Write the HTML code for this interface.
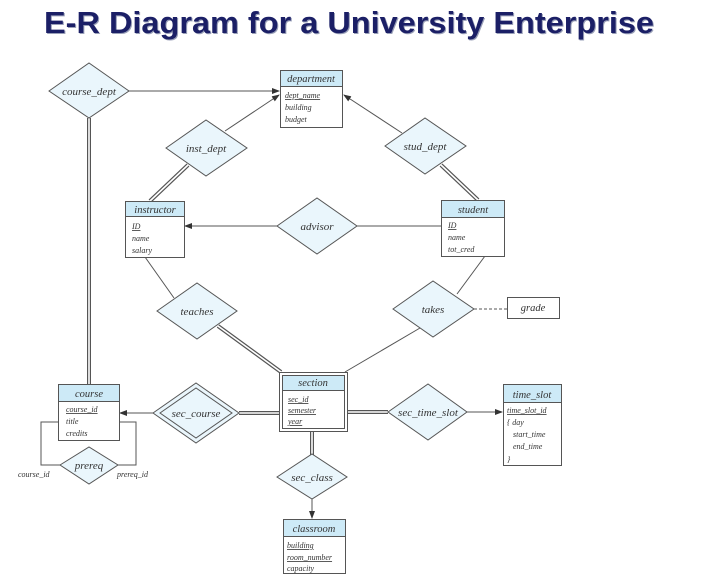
<!DOCTYPE html>
<html><head><meta charset="utf-8"><style>
html,body{margin:0;padding:0;background:#fff;width:708px;height:582px;overflow:hidden}
svg text{font-family:"Liberation Serif",serif;font-style:italic;fill:#333}
</style></head><body>
<svg width="708" height="582" viewBox="0 0 708 582" xmlns="http://www.w3.org/2000/svg">
<defs>
<marker id="ar" markerWidth="8" markerHeight="6" refX="7" refY="3" orient="auto" markerUnits="userSpaceOnUse">
<path d="M0,0 L8,3 L0,6 z" fill="#333"/></marker>
</defs>
<text x="45" y="34" textLength="610" lengthAdjust="spacingAndGlyphs" style="font-family:'Liberation Sans',sans-serif;font-style:normal;font-weight:bold;font-size:31px;fill:#9aa0b8">E-R Diagram for a University Enterprise</text>
<text x="44" y="33" textLength="610" lengthAdjust="spacingAndGlyphs" style="font-family:'Liberation Sans',sans-serif;font-style:normal;font-weight:bold;font-size:31px;fill:#1b1f66">E-R Diagram for a University Enterprise</text>

<g stroke="#555" stroke-width="1" fill="none">
<!-- single lines -->
<line x1="129" y1="91" x2="279" y2="91" marker-end="url(#ar)"/>
<line x1="225" y1="131" x2="279" y2="95" marker-end="url(#ar)"/>
<line x1="402" y1="133" x2="344" y2="95" marker-end="url(#ar)"/>
<line x1="277" y1="226" x2="185" y2="226" marker-end="url(#ar)"/>
<line x1="357" y1="226" x2="441" y2="226"/>
<line x1="145" y1="257" x2="174" y2="298"/>
<line x1="485" y1="256" x2="457" y2="294"/>
<line x1="420" y1="328" x2="345" y2="372"/>
<line x1="474" y1="309" x2="507" y2="309" stroke-dasharray="3,2"/>
<line x1="153" y1="413" x2="120" y2="413" marker-end="url(#ar)"/>
<line x1="467" y1="412" x2="502" y2="412" marker-end="url(#ar)"/>
<line x1="312" y1="499" x2="312" y2="518" marker-end="url(#ar)"/>
<polyline points="60,465 41,465 41,422 58,422"/>
<polyline points="118,465 136,465 136,422 119,422"/>
</g>
<!-- double lines -->
<g stroke="#555" stroke-width="4" fill="none">
<line x1="89" y1="118" x2="89" y2="384"/>
<line x1="188" y1="165" x2="150" y2="201"/>
<line x1="441" y1="165" x2="478" y2="200"/>
<line x1="218" y1="326" x2="281" y2="372"/>
<line x1="239" y1="413" x2="279" y2="413"/>
<line x1="347" y1="412" x2="388" y2="412"/>
<line x1="312" y1="431" x2="312" y2="455"/>
</g>
<g stroke="#fff" stroke-width="1.6" fill="none">
<line x1="89" y1="118" x2="89" y2="384"/>
<line x1="188" y1="165" x2="150" y2="201"/>
<line x1="441" y1="165" x2="478" y2="200"/>
<line x1="218" y1="326" x2="281" y2="372"/>
<line x1="239" y1="413" x2="279" y2="413"/>
<line x1="347" y1="412" x2="388" y2="412"/>
<line x1="312" y1="431" x2="312" y2="455"/>
</g>

<!-- diamonds -->
<g fill="#eaf6fc" stroke="#555" stroke-width="1">
<polygon points="49,91 89,63 129,91 89,118"/>
<polygon points="166,148 206,120 247,148 206,176"/>
<polygon points="385,146 425,118 466,146 425,174"/>
<polygon points="277,226 317,198 357,226 317,254"/>
<polygon points="157,311 197,283 237,311 197,339"/>
<polygon points="393,309 433,281 474,309 433,337"/>
<polygon points="153,413 196,383 239,413 196,443"/>
<polygon points="160,413 196,388 232,413 196,438"/>
<polygon points="388,412 428,384 467,412 428,440"/>
<polygon points="277,477 312,454 347,477 312,499"/>
<polygon points="60,465 89,447 118,465 89,484"/>
</g>
<g font-size="11" text-anchor="middle">
<text x="89" y="95">course_dept</text>
<text x="206" y="152">inst_dept</text>
<text x="425" y="150">stud_dept</text>
<text x="317" y="230">advisor</text>
<text x="197" y="315">teaches</text>
<text x="433" y="313">takes</text>
<text x="196" y="417">sec_course</text>
<text x="428" y="416">sec_time_slot</text>
<text x="312" y="481">sec_class</text>
<text x="89" y="469">prereq</text>
</g>
<g font-size="8">
<text x="18" y="477">course_id</text>
<text x="117" y="477">prereq_id</text>
</g>

<!-- entities -->
<g stroke="#555" stroke-width="1">
<rect x="280.5" y="70.5" width="62" height="57" fill="#fff"/><rect x="280.5" y="70.5" width="62" height="16" fill="#cdeaf7"/>
<rect x="125.5" y="201.5" width="59" height="56" fill="#fff"/><rect x="125.5" y="201.5" width="59" height="15" fill="#cdeaf7"/>
<rect x="441.5" y="200.5" width="63" height="56" fill="#fff"/><rect x="441.5" y="200.5" width="63" height="17" fill="#cdeaf7"/>
<rect x="58.5" y="384.5" width="61" height="56" fill="#fff"/><rect x="58.5" y="384.5" width="61" height="17" fill="#cdeaf7"/>
<rect x="503.5" y="384.5" width="58" height="81" fill="#fff"/><rect x="503.5" y="384.5" width="58" height="18" fill="#cdeaf7"/>
<rect x="283.5" y="519.5" width="62" height="54" fill="#fff"/><rect x="283.5" y="519.5" width="62" height="17" fill="#cdeaf7"/>
<rect x="507.5" y="297.5" width="52" height="21" fill="#fff"/>
<rect x="279.5" y="372.5" width="68" height="59" fill="#fff"/>
<rect x="282.5" y="375.5" width="62" height="53" fill="#fff"/>
<rect x="282.5" y="375.5" width="62" height="15" fill="#cdeaf7"/>
</g>
<g font-size="10.5" text-anchor="middle">
<text x="311" y="82">department</text>
<text x="155" y="213">instructor</text>
<text x="473" y="213">student</text>
<text x="89" y="397">course</text>
<text x="532" y="398">time_slot</text>
<text x="314" y="532">classroom</text>
<text x="313" y="386">section</text>
<text x="533" y="311">grade</text>
</g>
<g font-size="8">
<text x="285" y="98" text-decoration="underline">dept_name</text>
<text x="285" y="110">building</text>
<text x="285" y="122">budget</text>
<text x="132" y="229" text-decoration="underline">ID</text>
<text x="132" y="241">name</text>
<text x="132" y="253">salary</text>
<text x="448" y="228" text-decoration="underline">ID</text>
<text x="448" y="240">name</text>
<text x="448" y="252">tot_cred</text>
<text x="66" y="412" text-decoration="underline">course_id</text>
<text x="66" y="424">title</text>
<text x="66" y="436">credits</text>
<text x="507" y="413" text-decoration="underline">time_slot_id</text>
<text x="507" y="425">{  day</text>
<text x="513" y="437">start_time</text>
<text x="513" y="449">end_time</text>
<text x="507" y="462">}</text>
<text x="287" y="548" text-decoration="underline">building</text>
<text x="287" y="560" text-decoration="underline">room_number</text>
<text x="287" y="571">capacity</text>
<text x="288" y="402" text-decoration="underline">sec_id</text>
<text x="288" y="413" text-decoration="underline">semester</text>
<text x="288" y="424" text-decoration="underline">year</text>
</g>
</svg>
</body></html>
